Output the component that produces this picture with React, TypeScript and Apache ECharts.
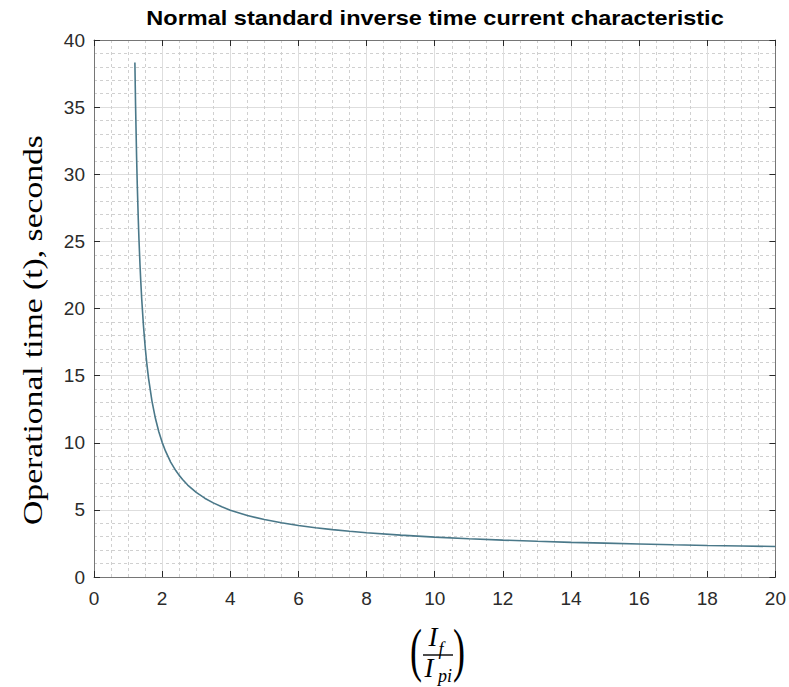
import React, { useEffect, useRef } from "react";
import * as echarts from "echarts";

const chartTitle = "Normal standard inverse time current characteristic";
const yAxisTitle = "Operational time (t), seconds";

// Current multiple (If / Ipi) and operating time (s)
const currentMultiple = [1.2, 1.22, 1.25, 1.27, 1.3, 1.32, 1.35, 1.37, 1.4, 1.45, 1.5, 1.55, 1.6, 1.7, 1.8, 1.9, 2, 2.1, 2.25, 2.4, 2.5, 2.6, 2.75, 3, 3.25, 3.5, 3.75, 4, 4.5, 5, 5.5, 6, 6.5, 7, 7.5, 8, 9, 10, 11, 12, 13, 14, 15, 16, 17, 18, 19, 20];
const operatingTime = [38.32, 35.13, 31.3, 29.22, 26.61, 25.14, 23.26, 22.17, 20.73, 18.77, 17.19, 15.9, 14.82, 13.12, 11.84, 10.84, 10.03, 9.37, 8.56, 7.93, 7.57, 7.26, 6.85, 6.3, 5.87, 5.52, 5.23, 4.98, 4.58, 4.28, 4.04, 3.84, 3.67, 3.53, 3.41, 3.3, 3.12, 2.97, 2.85, 2.75, 2.66, 2.58, 2.52, 2.46, 2.4, 2.35, 2.31, 2.27];

const xMin = 0, xMax = 20, xStep = 2, xMinorSplits = 4;
const yMin = 0, yMax = 40, yStep = 5, yMinorSplits = 5;

const SANS = '"Liberation Sans", Arial, Helvetica, sans-serif';
const SERIF = '"Liberation Serif", "Times New Roman", serif';

export default function App() {
  const ref = useRef<HTMLDivElement>(null);
  useEffect(() => {
    if (!ref.current) return;
    const chart = echarts.init(ref.current, null, { renderer: "svg" });
    const axisLineStyle = { color: "#767676", width: 1 };
    const tickStyle = { color: "#2a2a2a", width: 1 };
    const majorGrid = { show: true, lineStyle: { color: "#dedede", width: 1 } };
    const minorGrid = { show: true, lineStyle: { color: "#d0d0d0", width: 1, type: [3, 3] } };
    const labelStyle = { fontSize: 19, color: "#2b2b2b", fontFamily: SANS };
    const data = currentMultiple.map((x, i) => [x, operatingTime[i]]);
    const frameAxis = {
      axisLine: { show: true, onZero: false, lineStyle: axisLineStyle },
      axisTick: { show: true, inside: true, length: 6, lineStyle: tickStyle },
      axisLabel: { show: false },
      splitLine: { show: false },
    };
    chart.setOption({
      animation: false,
      backgroundColor: "#ffffff",
      grid: { left: 94, right: 13, top: 40, bottom: 110, containLabel: false },
      xAxis: [
        {
          type: "value", min: xMin, max: xMax, interval: xStep, position: "bottom",
          axisLine: { show: true, onZero: false, lineStyle: axisLineStyle },
          axisTick: { show: true, inside: true, length: 6, lineStyle: tickStyle },
          minorTick: { show: false, splitNumber: xMinorSplits },
          splitLine: majorGrid, minorSplitLine: minorGrid,
          axisLabel: { ...labelStyle, margin: 12 },
        },
        { type: "value", min: xMin, max: xMax, interval: xStep, position: "top", ...frameAxis },
      ],
      yAxis: [
        {
          type: "value", min: yMin, max: yMax, interval: yStep, position: "left",
          axisLine: { show: true, onZero: false, lineStyle: axisLineStyle },
          axisTick: { show: true, inside: true, length: 6, lineStyle: tickStyle },
          minorTick: { show: false, splitNumber: yMinorSplits },
          splitLine: majorGrid, minorSplitLine: minorGrid,
          axisLabel: { ...labelStyle, margin: 9 },
        },
        { type: "value", min: yMin, max: yMax, interval: yStep, position: "right", ...frameAxis },
      ],
      series: [
        {
          type: "line", xAxisIndex: 0, yAxisIndex: 0, data,
          showSymbol: false, smooth: false,
          lineStyle: { color: "#4a7889", width: 1.6 },
        },
      ],
      graphic: [
        { type: "text", x: 435, y: 18, scaleX: 1.12,
          style: { text: chartTitle, fontFamily: SANS, fontSize: 21, fontWeight: "bold", fill: "#000", align: "center", verticalAlign: "middle" } },
        { type: "text", x: 32, y: 330, rotation: Math.PI / 2, scaleX: 1.2,
          style: { text: yAxisTitle, fontFamily: SERIF, fontSize: 28, fill: "#000", align: "center", verticalAlign: "middle" } },
        { type: "text", x: 416, y: 650, scaleX: 0.6,
          style: { text: "(", fontFamily: SERIF, fontSize: 60, fill: "#000", align: "center", verticalAlign: "middle" } },
        { type: "text", x: 459, y: 650, scaleX: 0.6,
          style: { text: ")", fontFamily: SERIF, fontSize: 60, fill: "#000", align: "center", verticalAlign: "middle" } },
        { type: "text", x: 433, y: 637,
          style: { text: "I", fontFamily: SERIF, fontStyle: "italic", fontSize: 27, fill: "#000", align: "center", verticalAlign: "middle" } },
        { type: "text", x: 441, y: 649,
          style: { text: "f", fontFamily: SERIF, fontStyle: "italic", fontSize: 18, fill: "#000", align: "center", verticalAlign: "middle" } },
        { type: "line", shape: { x1: 423, y1: 655, x2: 453, y2: 655 }, style: { stroke: "#000", lineWidth: 1.4 } },
        { type: "text", x: 429, y: 668,
          style: { text: "I", fontFamily: SERIF, fontStyle: "italic", fontSize: 27, fill: "#000", align: "center", verticalAlign: "middle" } },
        { type: "text", x: 445, y: 676,
          style: { text: "pi", fontFamily: SERIF, fontStyle: "italic", fontSize: 18, fill: "#000", align: "center", verticalAlign: "middle" } },
      ],
    });
    return () => chart.dispose();
  }, []);
  return <div ref={ref} style={{ position: "fixed", left: 0, top: 0, width: 789, height: 687 }} />;
}
